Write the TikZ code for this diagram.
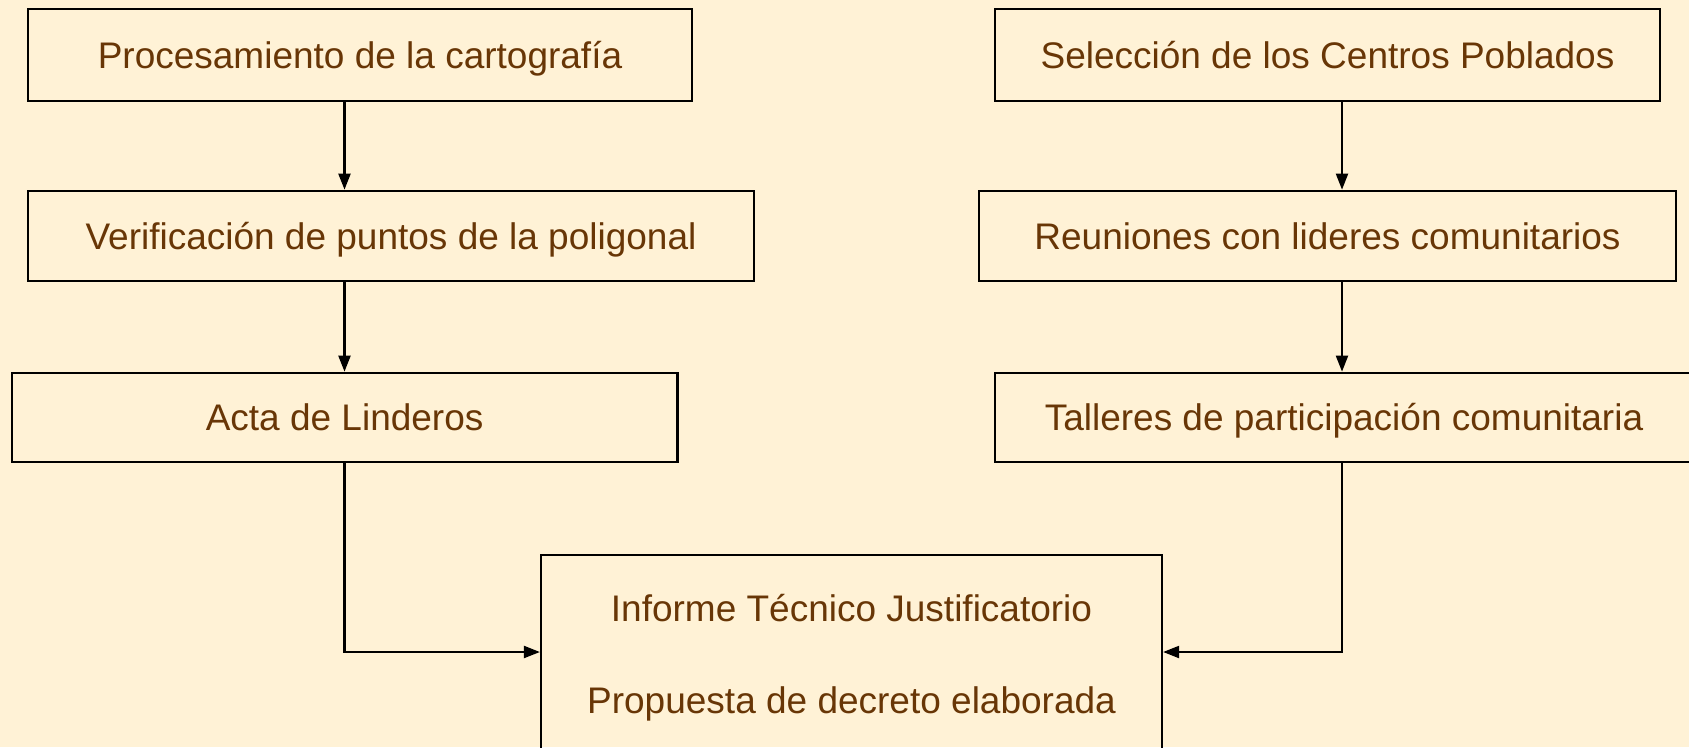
\documentclass[tikz,border=0pt]{standalone}
\usepackage{fontspec}
\setmainfont{Liberation Sans}
\usetikzlibrary{arrows.meta}
\definecolor{bgc}{RGB}{255,242,214}
\definecolor{txc}{RGB}{104,54,6}
\tikzset{
  box/.style={draw=black, line width=2.2pt, inner sep=0pt, text=txc,
    font=\fontsize{37}{44}\selectfont, text height=26.5pt, text depth=0pt},
  arr/.style={draw=black, line width=2.1pt, -{Triangle[length=16pt,width=12pt]}}
}
\begin{document}
\begin{tikzpicture}[x=1pt,y=-1pt]
\fill[bgc] (0,0) rectangle (1689,747);
\useasboundingbox (0,0) rectangle (1689,747);
\clip (0,0) rectangle (1689,747);
\node[box, minimum width=664pt, minimum height=92.4pt] (b1) at (360,54.8) {Procesamiento de la cartografía};
\node[box, minimum width=726pt, minimum height=90.3pt] (b2) at (391,235.9) {Verificación de puntos de la poligonal};
\node[box, minimum width=665.7pt, minimum height=89.3pt] (b3) at (344.6,417.4) {Acta de Linderos};
\node[box, minimum width=665pt, minimum height=92.4pt] (b4) at (1327.5,54.8) {Selección de los Centros Poblados};
\node[box, minimum width=697pt, minimum height=90.3pt] (b5) at (1327.5,235.9) {Reuniones con lideres comunitarios};
\node[box, minimum width=698pt, minimum height=89.3pt] (b6) at (1344,417.4) {Talleres de participación comunitaria};
\node[box, minimum width=621pt, minimum height=198pt, align=center, text height=118pt, text depth=0pt,
  font=\fontsize{37}{91.5}\selectfont] (b7) at (851.5,654) {Informe Técnico Justificatorio\\Propuesta de decreto elaborada};
\coordinate (L) at (344.5,0);
\coordinate (R) at (1342,0);
\coordinate (M) at (0,652);
\draw[arr] (b1.south -| L) -- (b2.north -| L);
\draw[arr] (b2.south -| L) -- (b3.north -| L);
\draw[arr] (b4.south -| R) -- (b5.north -| R);
\draw[arr] (b5.south -| R) -- (b6.north -| R);
\draw[arr] (b3.south -| L) |- (b7.west |- M);
\draw[arr] (b6.south -| R) |- (b7.east |- M);
\end{tikzpicture}
\end{document}
